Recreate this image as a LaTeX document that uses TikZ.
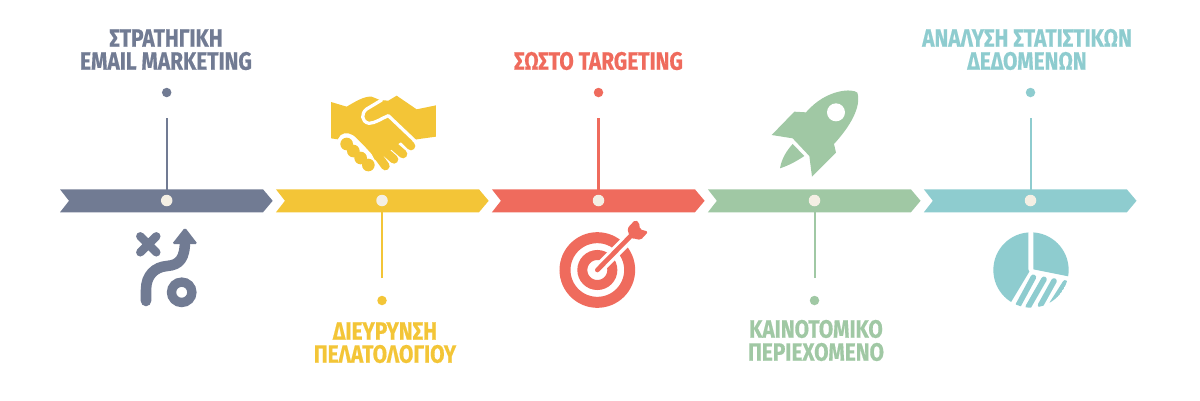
\documentclass[tikz,border=0pt]{standalone}
\usepackage{fontspec}
\setmainfont{Fira Sans}[UprightFont=* Bold,FakeStretch=0.83,FakeBold=0.5]
\definecolor{cslate}{HTML}{717B93}
\definecolor{cyell}{HTML}{F3C537}
\definecolor{cred}{HTML}{EF6B5D}
\definecolor{cgreen}{HTML}{A0C8A4}
\definecolor{cteal}{HTML}{8ECCCF}
\definecolor{ccream}{HTML}{F4EFE4}
\tikzset{
  hub/.style={circle,fill=ccream,draw=none,minimum size=2.3mm,inner sep=0pt},
  endd/.style={circle,draw=none,minimum size=1.9mm,inner sep=0pt},
  stem/.style={line width=1.15pt},
  lab/.style={anchor=south,inner sep=0pt,align=center,font=\fontsize{14.3}{13.1}\selectfont},
  zoomed/.style={x=0.006667cm,y=-0.006667cm}
}
\begin{document}
\begin{tikzpicture}[x=0.02cm,y=-0.02cm]
\useasboundingbox (0,0) rectangle (1200,400);
% bars
\fill[cslate] (60,189.3) -- (263,189.3) -- (272.7,200.8) -- (263,212.3) -- (60,212.3) -- (69,200.8) -- cycle;
\fill[cyell,xshift=4.32cm] (60,189.3) -- (263,189.3) -- (272.7,200.8) -- (263,212.3) -- (60,212.3) -- (69,200.8) -- cycle;
\fill[cred,xshift=8.64cm] (60,189.3) -- (263,189.3) -- (272.7,200.8) -- (263,212.3) -- (60,212.3) -- (69,200.8) -- cycle;
\fill[cgreen,xshift=12.96cm] (60,189.3) -- (263,189.3) -- (272.7,200.8) -- (263,212.3) -- (60,212.3) -- (69,200.8) -- cycle;
\fill[cteal,xshift=17.28cm] (60,189.3) -- (263,189.3) -- (272.7,200.8) -- (263,212.3) -- (60,212.3) -- (69,200.8) -- cycle;
% stems, hubs, end dots
\coordinate (s1) at (166.7,118); \coordinate (s2) at (382,278); \coordinate (s3) at (598.5,118); \coordinate (s4) at (814.5,278); \coordinate (s5) at (1030.5,118);
\node[hub] (h1) at (166.7,200.5) {};
\node[hub] (h2) at (382,200.5) {};
\node[hub] (h3) at (598.5,200.5) {};
\node[hub] (h4) at (814.5,200.5) {};
\node[hub] (h5) at (1030.5,200.5) {};
\draw[stem,cslate] (s1) -- (h1);
\draw[stem,cyell] (s2) -- (h2);
\draw[stem,cred] (s3) -- (h3);
\draw[stem,cgreen] (s4) -- (h4);
\draw[stem,cteal] (s5) -- (h5);
\node[endd,fill=cslate] (e1) at (166.7,92.5) {};
\node[endd,fill=cyell] (e2) at (382,300.5) {};
\node[endd,fill=cred] (e3) at (598.5,92.5) {};
\node[endd,fill=cgreen] (e4) at (814.5,300.5) {};
\node[endd,fill=cteal] (e5) at (1030.5,92.5) {};
% labels
\node[lab,text=cslate] (t1) at (166,70.5) {ΣΤΡΑΤΗΓΙΚΗ\\EMAIL MARKETING};
\node[lab,text=cyell] (t2) at (385,363.5) {ΔΙΕΥΡΥΝΣΗ\\ΠΕΛΑΤΟΛΟΓΙΟΥ};
\node[lab,text=cred] (t3) at (598.5,70.5) {ΣΩΣΤΟ TARGETING};
\node[lab,text=cgreen] (t4) at (816,361.5) {ΚΑΙΝΟΤΟΜΙΚΟ\\ΠΕΡΙΕΧΟΜΕΝΟ};
\node[lab,text=cteal] (t5) at (1027,70.5) {ΑΝΑΛΥΣΗ ΣΤΑΤΙΣΤΙΚΩΝ\\ΔΕΔΟΜΕΝΩΝ};
% strategy icon
\begin{scope}[cslate]
\draw[line width=4.8pt,line cap=round] (140.3,236.3) -- (156.3,252.3) (156.3,236.3) -- (140.3,252.3);
\draw[line width=6pt,line cap=round] (146,301) -- (146,290) .. controls (146,275) and (155,267) .. (167,266) .. controls (180,265) and (185,258) .. (185,240);
\fill[rounded corners=1pt] (185,227.5) -- (172,244) -- (197.7,244) -- cycle;
\draw[line width=5.3pt] (181.7,292.3) circle (10.2);
\end{scope}
% handshake icon
\begin{scope}[shift={(300,80)},zoomed,cyell]
\fill (93,66) -- (140,80) .. controls (170,62) and (195,48) .. (215,50) -- (240,60) -- (265,62) -- (290,47) -- (350,88) -- (408,76) -- (408,170) -- (350,178) -- (340,182) -- (300,188) -- (270,212) -- (247,230) -- (225,240) -- (215,222) -- (195,200) -- (170,175) .. controls (155,158) and (135,155) .. (122,165) -- (113,178) -- (93,175) -- cycle;
\draw[line width=0.173cm,line cap=round] (300,165) -- (333,198);
\draw[line width=0.173cm,line cap=round] (272,190) -- (309,222);
\draw[line width=0.173cm,line cap=round] (248,208) -- (282,238);
\draw[line width=0.173cm,line cap=round] (232,225) -- (256,258);
\draw[white,line width=0.065cm,line cap=round,line join=round] (245,60) -- (200,87) .. controls (183,100) and (183,125) .. (207,130) .. controls (225,130) and (245,115) .. (265,107) -- (345,183);
\fill (140,192) circle (19) (160,213) circle (19) (182,234) circle (19) (205,255) circle (19);
\end{scope}
% target icon
\begin{scope}[shift={(540,210)},zoomed,cred]
\draw[line width=0.22cm] (172,180) circle (97);
\draw[line width=0.2cm] (172,180) circle (45);
\draw[white,line width=0.22cm,line cap=round] (172,180) -- (285,67);
\draw[line width=0.093cm,line cap=round] (172,180) -- (275,75);
\fill[rounded corners=1pt] (262,55) -- (285,30) -- (297,37) -- (300,58) -- (325,65) -- (302,90) -- (280,85) -- (270,85) -- cycle;
\end{scope}
% rocket icon
\begin{scope}[shift={(750,80)},zoomed,cgreen]
\fill (322,38) .. controls (310,25) and (230,25) .. (168,97) -- (133,95) -- (65,165) -- (128,175) -- (178,228) -- (186,290) -- (258,218) -- (252,192) .. controls (300,140) and (335,80) .. (322,38) -- cycle;
\fill[white] (258,97) circle (27);
\fill (128,192) -- (163,228) .. controls (130,250) and (110,258) .. (90,265) .. controls (95,235) and (110,212) .. (128,192) -- cycle;
\end{scope}
% pie icon
\begin{scope}[shift={(970,220)},zoomed,cteal]
\begin{scope}
\clip (183,150) circle (113);
\fill (175,30) -- (175,148) -- (178,155) -- (118,255) -- (0,255) -- (0,30) -- cycle;
\fill (190,30) -- (190,148) -- (310,172) -- (310,30) -- cycle;
\draw[line width=0.113cm,line cap=round] (190,172) -- (145,255);
\draw[line width=0.113cm,line cap=round] (222,178) -- (175,260);
\draw[line width=0.113cm,line cap=round] (252,183) -- (212,255);
\draw[line width=0.09cm,line cap=round] (285,187) -- (245,250);
\end{scope}
\end{scope}
\end{tikzpicture}
\end{document}
